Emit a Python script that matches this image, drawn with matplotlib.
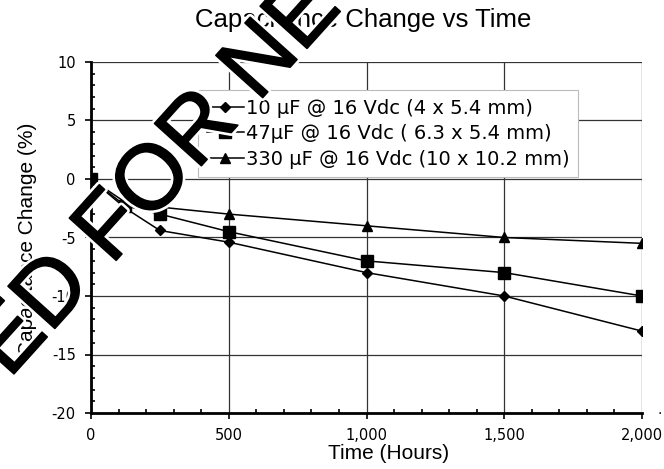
import numpy as np
import matplotlib
matplotlib.use("Agg")
import matplotlib.pyplot as plt
import matplotlib.patheffects as pe
from matplotlib.ticker import MultipleLocator, FuncFormatter

# hours on test
hours = [0, 125, 250, 500, 1000, 1500, 2000]

# capacitance change (%) per part
cap_10uf = [0, -2.5, -4.4, -5.4, -8.0, -10.0, -13.0]
cap_47uf = [0, -2.3, -3.0, -4.5, -7.0, -8.0, -10.0]
cap_330uf = [0, -2.0, -2.4, -3.0, -4.0, -5.0, -5.5]

labels = ["10 µF @ 16 Vdc (4 x 5.4 mm)",
          "47µF @ 16 Vdc ( 6.3 x 5.4 mm)",
          "330 µF @ 16 Vdc (10 x 10.2 mm)"]

fig = plt.figure(figsize=(6.64, 4.69), dpi=100)
ax = fig.add_axes([91/664, 1 - 413/469, 551/664, 351/469])

ax.plot(hours, cap_10uf, color="black", lw=1.1, marker="D", ms=5.5, label=labels[0])
ax.plot(hours, cap_47uf, color="black", lw=1.1, marker="s", ms=8, label=labels[1])
ax.plot(hours, cap_330uf, color="black", lw=1.1, marker="^", ms=7.5, label=labels[2])

ax.set_xlim(0, 2000)
ax.set_ylim(-20, 10)

ax.xaxis.set_major_locator(MultipleLocator(500))
ax.xaxis.set_minor_locator(MultipleLocator(100))
ax.yaxis.set_major_locator(MultipleLocator(5))
ax.yaxis.set_minor_locator(MultipleLocator(1))
ax.xaxis.set_major_formatter(FuncFormatter(lambda v, p: f"{int(v):,}"))
ax.yaxis.set_major_formatter(FuncFormatter(lambda v, p: f"{int(v)}"))

ax.grid(True, which="major", color="#333333", lw=0.9)
ax.set_axisbelow(True)

for s in ["top", "right"]:
    ax.spines[s].set_visible(False)
ax.spines["left"].set_linewidth(2.0)
ax.spines["bottom"].set_linewidth(2.0)

ax.tick_params(which="major", direction="out", length=4, width=1.2,
               labelsize=10.5, pad=7)
ax.tick_params(which="minor", direction="in", length=3, width=1.2)
for t in ax.get_xticklabels() + ax.get_yticklabels():
    t.set_family("DejaVu Sans")

ax.set_xlabel("Time (Hours)", family="Liberation Sans", fontsize=15)
ax.set_ylabel("Capacitance Change (%)", family="Liberation Sans", fontsize=15)
ax.xaxis.set_label_coords(0.54, -0.088)
ax.yaxis.set_label_coords(-0.098, 0.495)

fig.text(363/664, 1 - 20/469, "Capacitance Change vs Time",
         family="Liberation Sans", fontsize=18.5, ha="center", va="center")

leg = ax.legend(loc="upper left", bbox_to_anchor=(198/664, 1 - 90/469),
                bbox_transform=fig.transFigure, borderaxespad=0,
                prop={"family": "DejaVu Sans", "size": 14},
                handlelength=1.9, handletextpad=0.1, labelspacing=0.33,
                borderpad=0.45, fancybox=False, framealpha=1)
leg.get_frame().set_edgecolor("#bbbbbb")
leg.get_frame().set_linewidth(0.8)

fig.text(660/664, 1 - 410/469, ".", fontsize=10, ha="center", va="center")

# diagonal stamp across the chart
fig.text(158/664, 1 - 178/469, "ED FOR NE", family="Liberation Sans",
         fontsize=66, rotation=48, rotation_mode="anchor",
         ha="center", va="center", color="black", zorder=10,
         path_effects=[pe.withStroke(linewidth=5, foreground="white"),
                       pe.withStroke(linewidth=1.2, foreground="black")])

fig.savefig("out.png", dpi=100)
